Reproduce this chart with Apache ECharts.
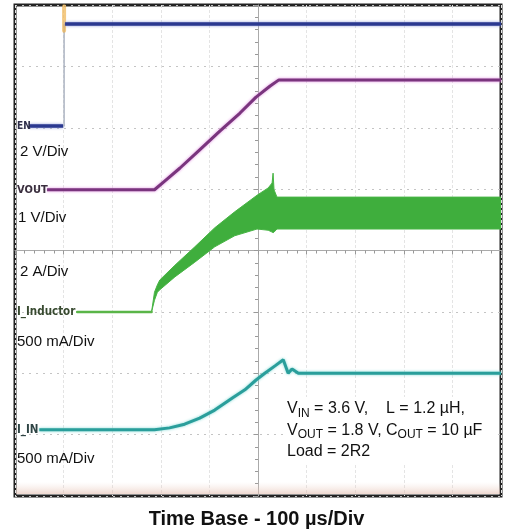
<!DOCTYPE html>
<html><head><meta charset="utf-8">
<script src="https://cdn.jsdelivr.net/npm/echarts@6/dist/echarts.min.js"></script>
<style>html,body{margin:0;padding:0;background:#fff}#c{width:513px;height:530px}</style>
</head><body><div id="c"></div>
<script>
// Time in µs (100 µs/div, 10 div), amplitude in screen divisions (0 = bottom graticule line, 8 div)
const xMin = 0, xMax = 1000, xDiv = 100;
const yMin = 0, yMax = 8, yDiv = 1;

const enLow    = [[29, 6.03], [99, 6.03]];
const enEdge   = [[101, 6.03], [101, 7.69]];
const enHigh   = [[103, 7.69], [1000, 7.69]];
const enGlitch = [[101, 7.58], [101, 7.98]];

const vout = [[66, 4.99], [287, 4.99], [308, 5.13], [339, 5.34], [380, 5.64], [422, 5.95],
              [463, 6.24], [496, 6.50], [525, 6.68], [543, 6.78], [1000, 6.78]];

const indFlat = [[128, 3.0], [281, 3.0]];
const indX    = [281, 287, 293, 298, 329, 370, 411, 452, 498, 521, 529, 531, 533, 539, 1000];
const indLow  = [3.00, 3.19, 3.32, 3.36, 3.57, 3.81, 4.06, 4.24, 4.35, 4.33, 4.30, 4.29, 4.30, 4.35, 4.35];
const indHigh = [3.00, 3.32, 3.44, 3.52, 3.76, 4.06, 4.37, 4.63, 4.90, 5.02, 5.10, 5.26, 4.99, 4.87, 4.87];

const iin = [[50, 1.08], [287, 1.08], [318, 1.11], [349, 1.17], [380, 1.27], [411, 1.40], [448, 1.60],
             [473, 1.73], [496, 1.89], [514, 2.00], [535, 2.12], [552, 2.22], [562, 2.00], [570, 2.07],
             [583, 2.00], [1000, 2.00]];

const channelNames = ['EN', 'VOUT', 'I_Inductor', 'I_IN'];
const scaleLabels  = ['2 V/Div', '1 V/Div', '2 A/Div', '500 mA/Div', '500 mA/Div'];
const titleText = 'Time Base - 100 µs/Div';

const chart = echarts.init(document.getElementById('c'), null, {renderer: 'canvas'});
const FONT = '"Liberation Sans", Arial, sans-serif';

function line(name, data, color, width, extra) {
  return Object.assign({
    name, type: 'line', data, symbol: 'none', silent: true, animation: false,
    lineStyle: {color, width, cap: 'round', join: 'round'}
  }, extra || {});
}

const bandData = indX.map((x, i) => [x, indLow[i], indHigh[i]]);

function renderBand(params, api) {
  if (params.dataIndexInside !== 0) return null;
  const n = params.dataInsideLength;
  const top = [], bot = [];
  for (let i = 0; i < n; i++) {
    const x = api.value(0, i);
    bot.push(api.coord([x, api.value(1, i)]));
    top.push(api.coord([x, api.value(2, i)]));
  }
  const pts = top.concat(bot.reverse());
  return {
    type: 'polygon', shape: {points: pts},
    style: {fill: '#3fae3d', stroke: '#48b545', lineWidth: 1}
  };
}

const option = {
  animation: false,
  backgroundColor: '#fff',
  grid: {left: 15, top: 5, width: 486, height: 491, show: true, borderWidth: 3, borderColor: '#222', backgroundColor: '#fff'},
  xAxis: [
    {type: 'value', min: xMin, max: xMax, interval: xDiv,
     axisLine: {show: false}, axisTick: {show: false}, axisLabel: {show: false},
     splitLine: {show: true, lineStyle: {color: '#e4e4e4', width: 1, type: [3, 2]}}},
    {type: 'value', min: -(xMax - xMin) / 2, max: (xMax - xMin) / 2, interval: xDiv, position: 'bottom',
     axisLine: {show: true, onZero: true, onZeroAxisIndex: 1, lineStyle: {color: '#aaa', width: 1}},
     axisTick: {show: true, length: 4, lineStyle: {color: '#999'}},
     minorTick: {show: true, splitNumber: 5, length: 3, lineStyle: {color: '#999'}},
     axisLabel: {show: false}, splitLine: {show: false}}
  ],
  yAxis: [
    {type: 'value', min: yMin, max: yMax, interval: yDiv,
     axisLine: {show: false}, axisTick: {show: false}, axisLabel: {show: false},
     splitLine: {show: true, lineStyle: {color: '#c4c4c4', width: 1, type: [2, 5]}}},
    {type: 'value', min: -(yMax - yMin) / 2, max: (yMax - yMin) / 2, interval: yDiv, position: 'left',
     axisLine: {show: true, onZero: true, onZeroAxisIndex: 1, lineStyle: {color: '#aaa', width: 1}},
     axisTick: {show: true, length: 4, lineStyle: {color: '#999'}},
     minorTick: {show: true, splitNumber: 5, length: 3, lineStyle: {color: '#999'}},
     axisLabel: {show: false}, splitLine: {show: false}}
  ],
  series: [
    line('EN low', enLow, '#2b3990', 3.5, {lineStyle: {color: '#2b3990', width: 3.5, shadowBlur: 3, shadowColor: '#8a96d6'}}),
    line('EN edge', enEdge, '#9aa3b5', 1.2),
    line('EN glitch', enGlitch, 'rgba(240,180,80,0.7)', 4),
    line('EN', enHigh, '#2b3990', 3.5, {lineStyle: {color: '#2b3990', width: 3.5, shadowBlur: 3, shadowColor: '#8a96d6'}}),
    line('VOUT', vout, '#7a357e', 3, {lineStyle: {color: '#7a357e', width: 3, shadowBlur: 3, shadowColor: '#e08ee0', join: 'round'}}),
    line('I_Inductor flat', indFlat, '#5ab548', 2.5),
    {name: 'I_Inductor', type: 'custom', data: bandData, renderItem: renderBand, silent: true,
     encode: {x: 0, y: [1, 2]}, clip: true},
    line('I_IN', iin, '#2a9d9a', 3, {lineStyle: {color: '#2a9e9b', width: 3, shadowBlur: 3, shadowColor: '#7fd8d4'}})
  ],
  title: {text: titleText, left: 'center', top: 504,
          textStyle: {fontFamily: FONT, fontSize: 20, fontWeight: 'bold', color: '#111'}},
  graphic: [
    {type: 'rect', z: 1, silent: true, shape: {x: 16, y: 482, width: 484, height: 12},
     style: {fill: new echarts.graphic.LinearGradient(0, 0, 0, 1, [
       {offset: 0, color: 'rgba(240,215,205,0)'}, {offset: 1, color: 'rgba(225,185,170,0.55)'}])}},
    // channel markers
    {type: 'text', z: 10, x: 17, y: 126, style: {text: channelNames[0], fill: '#2e2e4a', font: 'bold 10px "DejaVu Sans Condensed"', verticalAlign: 'middle'}},
    {type: 'text', z: 10, x: 17, y: 190, style: {text: channelNames[1], fill: '#3a2e3e', font: 'bold 11px "DejaVu Sans Condensed"', verticalAlign: 'middle'}},
    {type: 'text', z: 10, x: 17, y: 312, style: {text: channelNames[2], fill: '#384a30', font: 'bold 11.5px "DejaVu Sans Condensed"', verticalAlign: 'middle'}},
    {type: 'text', z: 10, x: 17, y: 430, style: {text: channelNames[3], fill: '#2e4444', font: 'bold 11.5px "DejaVu Sans Condensed"', verticalAlign: 'middle'}},
    // scale labels
    {type: 'text', z: 10, x: 20, y: 152, style: {text: scaleLabels[0], fill: '#111', font: '15px ' + FONT, verticalAlign: 'middle'}},
    {type: 'text', z: 10, x: 18, y: 218, style: {text: scaleLabels[1], fill: '#111', font: '15px ' + FONT, verticalAlign: 'middle'}},
    {type: 'text', z: 10, x: 20, y: 272, style: {text: scaleLabels[2], fill: '#111', font: '15px ' + FONT, verticalAlign: 'middle'}},
    {type: 'text', z: 10, x: 17, y: 342, style: {text: scaleLabels[3], fill: '#111', font: '15px ' + FONT, verticalAlign: 'middle'}},
    {type: 'text', z: 10, x: 17, y: 459, style: {text: scaleLabels[4], fill: '#111', font: '15px ' + FONT, verticalAlign: 'middle'}},
    // conditions box
    {type: 'rect', z: 9, silent: true, shape: {x: 284, y: 397, width: 213, height: 67}, style: {fill: '#fff'}},
    {type: 'text', z: 10, x: 287, y: 398, style: {
      text: '{n|V}{s|IN}{n| = 3.6 V,    L = 1.2 µH,}\n{n|V}{s|OUT}{n| = 1.8 V, C}{s|OUT}{n| = 10 µF}\n{n|Load = 2R2}',
      fill: '#111', font: '16px ' + FONT,
      rich: {
        n: {fontFamily: FONT, fontSize: 16, lineHeight: 21.5, fill: '#111', verticalAlign: 'middle'},
        s: {fontFamily: FONT, fontSize: 12, lineHeight: 14, fill: '#111', verticalAlign: 'bottom'}
      }}}
  ]
};
chart.setOption(option);
</script>
</body></html>
